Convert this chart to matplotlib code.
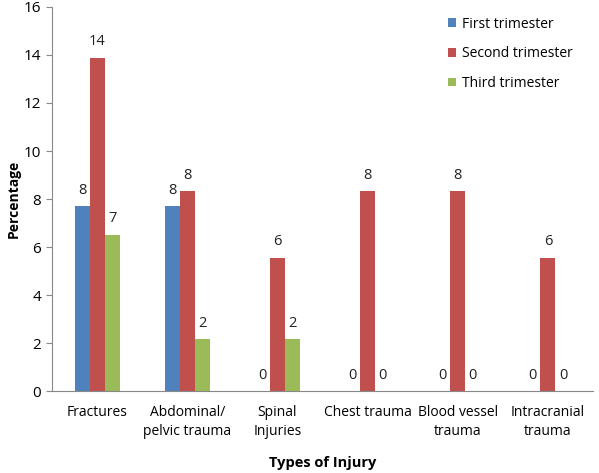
import matplotlib
matplotlib.use("Agg")
import matplotlib.pyplot as plt
import numpy as np

categories = ["Fractures", "Abdominal/\npelvic trauma", "Spinal\nInjuries",
              "Chest trauma", "Blood vessel\ntrauma", "Intracranial\ntrauma"]
series_names = ["First trimester", "Second trimester", "Third trimester"]
first = [7.69, 7.69, 0, 0, 0, 0]
second = [13.89, 8.33, 5.56, 8.33, 8.33, 5.56]
third = [6.52, 2.17, 2.17, 0, 0, 0]
colors = ["#4F81BD", "#C0504D", "#9BBB59"]
yticks = [0, 2, 4, 6, 8, 10, 12, 14, 16]

plt.rcParams['font.family'] = ['Open Sans', 'DejaVu Sans']

fig = plt.figure(figsize=(5.99, 4.73), dpi=100)
ax = fig.add_axes([52/599, 1-391/473, (593-52)/599, (391-7)/473])

x = np.arange(len(categories))
w = 1/6
for i, (vals, c, name) in enumerate(zip([first, second, third], colors, series_names)):
    pos = x + (i-1)*w
    ax.bar(pos, vals, width=w, color=c, label=name, zorder=2)
    for p, v in zip(pos, vals):
        ax.text(p, v + 0.35, f"{v:.0f}", ha="center", va="bottom", fontsize=10.5, color="#222222")

ax.set_xlim(-0.5, len(categories)-0.5)
ax.set_ylim(0, 16)
ax.set_yticks(yticks)
ax.set_xticks(x)
ax.set_xticklabels(categories, fontsize=10, linespacing=1.4)
ax.tick_params(axis='x', length=0, pad=10)
ax.tick_params(axis='y', length=4, color="#888888", labelsize=11, pad=4)
for s in ["top", "right"]:
    ax.spines[s].set_visible(False)
for s in ["left", "bottom"]:
    ax.spines[s].set_color("#888888")
ax.set_ylabel("Percentage", fontsize=10, fontweight="bold", labelpad=2)
ax.set_xlabel("Types of Injury", fontsize=10.5, fontweight="bold", labelpad=12)

leg = ax.legend(loc="upper left", bbox_to_anchor=((438-52)/541, 1.0), frameon=False,
                fontsize=10, handlelength=0.6, handleheight=0.6, borderaxespad=0.3,
                handletextpad=0.45, labelspacing=1.05)

fig.savefig("out.png", dpi=100)
